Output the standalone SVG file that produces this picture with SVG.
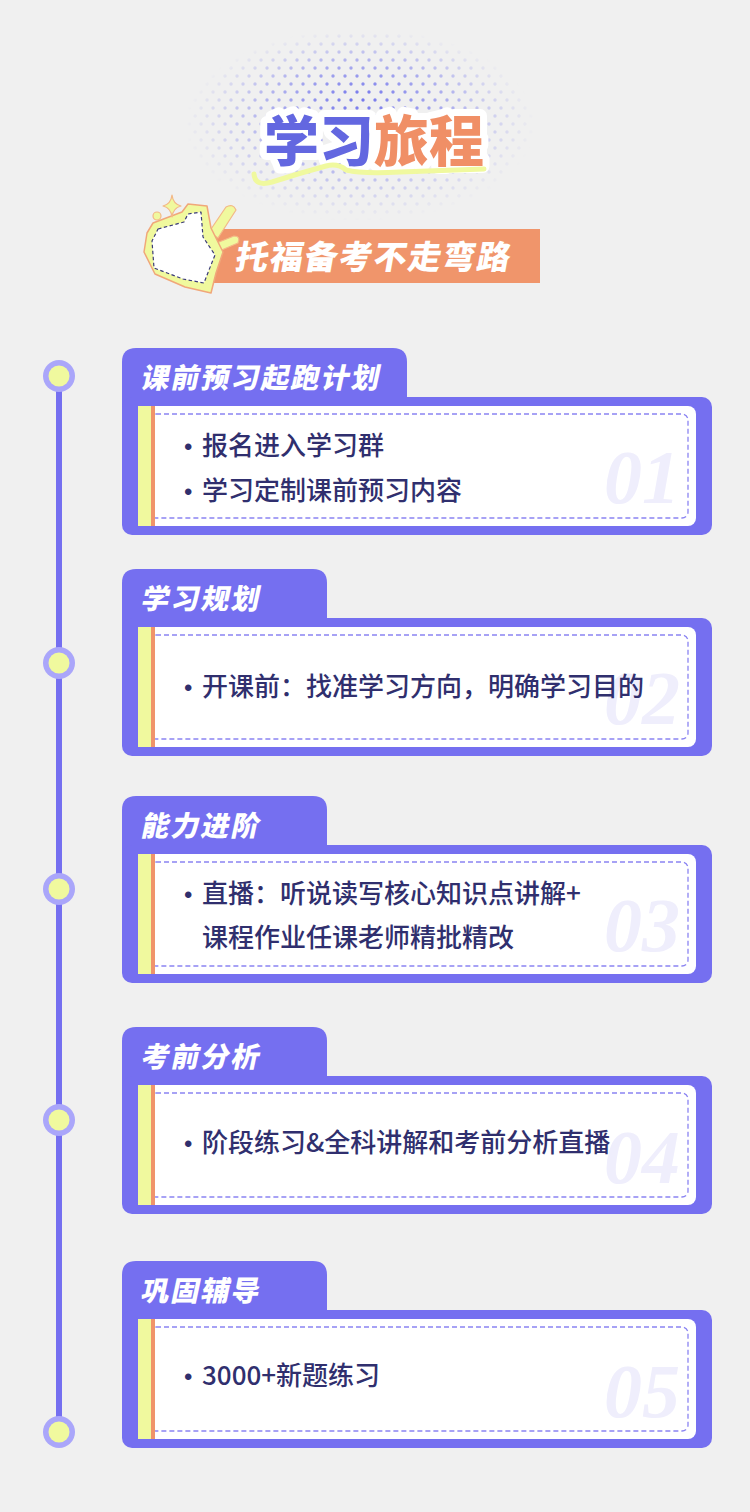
<svg xmlns="http://www.w3.org/2000/svg" width="750" height="1512" viewBox="0 0 750 1512">
<defs>
<style>
.tab{fill:#756ff0}
.box{fill:#756ff0}
.panel{fill:#ffffff}
.ystrip{fill:#f0f99e}
.ostrip{fill:#f0946a}
.dash{fill:none;stroke:#8b84f2;stroke-width:1.3;stroke-dasharray:5 3}
.ttl{font-family:"Noto Sans CJK SC","Noto Sans",sans-serif;font-weight:900;font-size:28px;fill:#ffffff;letter-spacing:2px}
.txt{font-family:"Noto Sans CJK SC","Noto Sans",sans-serif;font-weight:500;font-size:26px;fill:#302f6e}
.bul{font-family:"Liberation Sans",sans-serif;font-size:24px;fill:#302f6e}
.num{font-family:"Liberation Serif",serif;font-weight:bold;font-style:italic;font-size:76px;fill:#efeefc}
.dot-o{fill:#aaa6fa}
.dot-i{fill:#f0f99e}
.deco{fill:#f0f99e;stroke:#f3b887;stroke-width:1.2;stroke-linejoin:round}
</style>
<pattern id="dots" width="12" height="16" patternUnits="userSpaceOnUse">
<circle cx="3" cy="4" r="1.7" fill="#7376ec"/>
<circle cx="9" cy="12" r="1.7" fill="#7376ec"/>
</pattern>
<radialGradient id="fade" gradientUnits="userSpaceOnUse" cx="360" cy="125" r="175" fx="360" fy="75" gradientTransform="translate(0,125) scale(1,0.55) translate(0,-125)">
<stop offset="0" stop-color="#fff" stop-opacity="1"/>
<stop offset="0.55" stop-color="#fff" stop-opacity="0.5"/>
<stop offset="1" stop-color="#fff" stop-opacity="0"/>
</radialGradient>
<mask id="dotmask"><rect x="170" y="30" width="390" height="190" fill="url(#fade)"/></mask>
</defs>
<rect x="0" y="0" width="750" height="1512" fill="#f0f0f0"/>

<g id="header">
<rect x="170" y="30" width="390" height="190" fill="url(#dots)" mask="url(#dotmask)"/>
<g id="title">
<text x="264" y="161" font-family="Noto Sans CJK SC, sans-serif" font-weight="900" font-size="55" stroke="#ffffff" stroke-width="14" stroke-linejoin="round" paint-order="stroke"><tspan fill="#6367e0">学习</tspan><tspan fill="#f08f66">旅程</tspan></text>
<path d="M254,174 Q255,187 272,182 Q300,173 326,166 Q338,163 346,170 Q362,174 400,172 L484,169" fill="none" stroke="#f0f99e" stroke-width="5" stroke-linecap="round"/>
</g>
<g id="banner">
<rect x="212" y="229" width="328" height="54" fill="#f0956b"/>
<text transform="translate(234,269) skewX(-10)" font-family="Noto Sans CJK SC, sans-serif" font-weight="900" font-size="33" fill="#ffffff" letter-spacing="1.5">托福备考不走弯路</text>
</g>
<g id="thumb">
<path class="deco" d="M209,232 L226,207 Q233,203 236,210 L218,238 Z"/>
<path class="deco" d="M214,244 L234,236 Q241,236 238,243 L217,252 Z"/>
<path d="M153,223 L182,212 L188,204 L207,206 L211,228 L223,252 L216,273 L211,293 L185,287 L155,274 L144,252 L147,233 Z" fill="#f0f99e" stroke="#f0a77a" stroke-width="1.5" stroke-linejoin="round"/>
<path d="M158,229 L184,222 L188,214 L201,212 L203,237 L215,255 L209,270 L204,283 L183,279 L154,268 L152,241 Z" fill="#ffffff" stroke="#3a3a78" stroke-width="1.2" stroke-dasharray="3.5 2.5" stroke-linejoin="round"/>
<path class="deco" d="M172,195 Q173,204 181,206 Q173,208 172,217 Q171,208 163,206 Q171,204 172,195 Z"/>
<circle class="deco" cx="157" cy="216" r="4"/>
</g>
</g>

<g id="connectors">
<line x1="59" y1="376" x2="59" y2="1432" stroke="#756ff0" stroke-width="6"/>
</g>
<g id="dot1"><circle class="dot-o" cx="59" cy="376" r="16"/><circle class="dot-i" cx="59" cy="376" r="10.5"/></g>
<g id="dot2"><circle class="dot-o" cx="59" cy="663" r="16"/><circle class="dot-i" cx="59" cy="663" r="10.5"/></g>
<g id="dot3"><circle class="dot-o" cx="59" cy="889" r="16"/><circle class="dot-i" cx="59" cy="889" r="10.5"/></g>
<g id="dot4"><circle class="dot-o" cx="59" cy="1120" r="16"/><circle class="dot-i" cx="59" cy="1120" r="10.5"/></g>
<g id="dot5"><circle class="dot-o" cx="59" cy="1432" r="16"/><circle class="dot-i" cx="59" cy="1432" r="10.5"/></g>

<g id="card1">
<path class="tab" d="M122,410 V362 Q122,348 136,348 H393 Q407,348 407,362 V410 Z"/>
<rect class="box" x="122" y="397" width="590" height="138" rx="10"/>
<rect class="panel" x="138" y="406" width="558" height="120" rx="8"/>
<rect class="dash" x="150" y="414" width="538" height="104" rx="6"/>
<rect class="ystrip" x="138" y="406" width="13" height="120"/>
<rect class="ostrip" x="151" y="406" width="4" height="120"/>
<text class="num" x="680" y="503" text-anchor="end">01</text>
<text class="ttl" transform="translate(140,388) skewX(-12)">课前预习起跑计划</text>
<text class="bul" x="184" y="455">•</text><text class="txt" x="202" y="455">报名进入学习群</text>
<text class="bul" x="184" y="500">•</text><text class="txt" x="202" y="500">学习定制课前预习内容</text>
</g>

<g id="card2">
<path class="tab" d="M122,631 V583 Q122,569 136,569 H313 Q327,569 327,583 V631 Z"/>
<rect class="box" x="122" y="618" width="590" height="138" rx="10"/>
<rect class="panel" x="138" y="627" width="558" height="120" rx="8"/>
<rect class="dash" x="150" y="635" width="538" height="104" rx="6"/>
<rect class="ystrip" x="138" y="627" width="13" height="120"/>
<rect class="ostrip" x="151" y="627" width="4" height="120"/>
<text class="num" x="680" y="724" text-anchor="end">02</text>
<text class="ttl" transform="translate(140,609) skewX(-12)">学习规划</text>
<text class="bul" x="184" y="696">•</text><text class="txt" x="202" y="696">开课前：找准学习方向，明确学习目的</text>
</g>

<g id="card3">
<path class="tab" d="M122,858 V810 Q122,796 136,796 H313 Q327,796 327,810 V858 Z"/>
<rect class="box" x="122" y="845" width="590" height="138" rx="10"/>
<rect class="panel" x="138" y="854" width="558" height="120" rx="8"/>
<rect class="dash" x="150" y="862" width="538" height="104" rx="6"/>
<rect class="ystrip" x="138" y="854" width="13" height="120"/>
<rect class="ostrip" x="151" y="854" width="4" height="120"/>
<text class="num" x="680" y="951" text-anchor="end">03</text>
<text class="ttl" transform="translate(140,836) skewX(-12)">能力进阶</text>
<text class="bul" x="184" y="903">•</text><text class="txt" x="202" y="903">直播：听说读写核心知识点讲解+</text>
<text class="txt" x="202" y="947">课程作业任课老师精批精改</text>
</g>

<g id="card4">
<path class="tab" d="M122,1089 V1041 Q122,1027 136,1027 H313 Q327,1027 327,1041 V1089 Z"/>
<rect class="box" x="122" y="1076" width="590" height="138" rx="10"/>
<rect class="panel" x="138" y="1085" width="558" height="120" rx="8"/>
<rect class="dash" x="150" y="1093" width="538" height="104" rx="6"/>
<rect class="ystrip" x="138" y="1085" width="13" height="120"/>
<rect class="ostrip" x="151" y="1085" width="4" height="120"/>
<text class="num" x="680" y="1183" text-anchor="end">04</text>
<text class="ttl" transform="translate(140,1067) skewX(-12)">考前分析</text>
<text class="bul" x="184" y="1152">•</text><text class="txt" x="202" y="1152">阶段练习&amp;全科讲解和考前分析直播</text>
</g>

<g id="card5">
<path class="tab" d="M122,1323 V1275 Q122,1261 136,1261 H313 Q327,1261 327,1275 V1323 Z"/>
<rect class="box" x="122" y="1310" width="590" height="138" rx="10"/>
<rect class="panel" x="138" y="1319" width="558" height="120" rx="8"/>
<rect class="dash" x="150" y="1327" width="538" height="104" rx="6"/>
<rect class="ystrip" x="138" y="1319" width="13" height="120"/>
<rect class="ostrip" x="151" y="1319" width="4" height="120"/>
<text class="num" x="680" y="1417" text-anchor="end">05</text>
<text class="ttl" transform="translate(140,1301) skewX(-12)">巩固辅导</text>
<text class="bul" x="184" y="1385">•</text><text class="txt" x="202" y="1385">3000+新题练习</text>
</g>
</svg>
